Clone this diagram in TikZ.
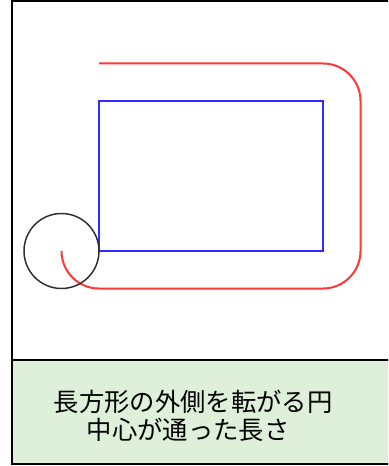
\documentclass[tikz,border=0pt]{standalone}
\usepackage{fontspec}
\newfontfamily\jpfont{Noto Sans CJK JP}
\definecolor{panelgreen}{RGB}{222,239,218}
\definecolor{pathred}{RGB}{255,55,55}
\definecolor{rectblue}{RGB}{45,45,255}
\definecolor{circgray}{RGB}{45,45,45}
\begin{document}
\begin{tikzpicture}[x=0.75pt,y=-0.75pt,
  frame/.style={draw=black,line width=1.5pt},
  redpath/.style={draw=pathred,line width=1.5pt},
  bluerect/.style={draw=rectblue,line width=1.5pt},
  roller/.style={draw=circgray,line width=1.1pt},
  caption/.style={font=\jpfont\fontsize{19pt}{21pt}\selectfont,inner sep=0pt,anchor=center}]
\useasboundingbox (0,0) rectangle (388,466);
\clip (0,0) rectangle (388,466);
% panel
\fill[panelgreen] (12,359.5) rectangle (395,464);
\draw[frame] (12,1.5) rectangle (395,464);
\draw[frame] (12,359.5) -- (395,359.5);
% blue rectangle
\draw[bluerect] (99,101) rectangle (323,251);
% red path of circle centre
\draw[redpath] (61.5,251) arc[start angle=180,end angle=90,radius=37.5]
  -- (323,288.5) arc[start angle=90,end angle=0,radius=37.5]
  -- (360.5,101) arc[start angle=0,end angle=-90,radius=37.5]
  -- (99,63.5);
% rolling circle
\draw[roller] (61.5,251) circle[radius=37.5];
% captions
\node[caption] (line1) at (193,402) {長方形の外側を転がる円};
\node[caption] (line2) at (188,430) {中心が通った長さ};
\end{tikzpicture}
\end{document}
